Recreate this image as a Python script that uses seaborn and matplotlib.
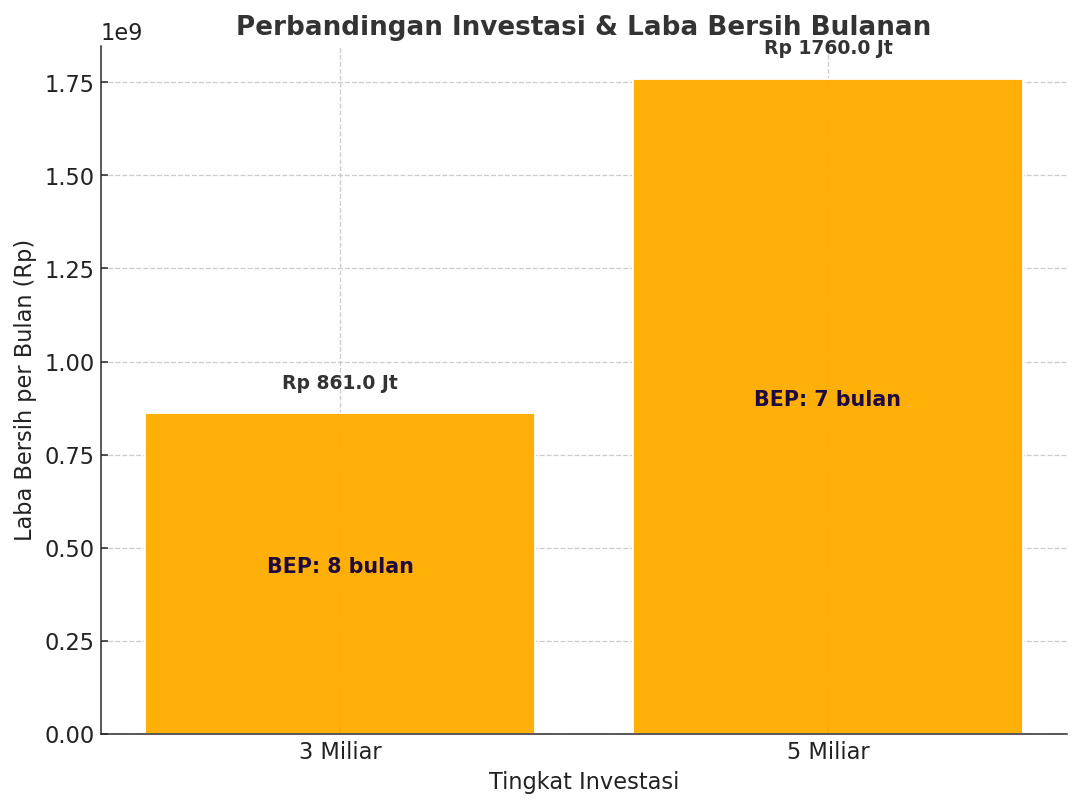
import matplotlib
matplotlib.use('Agg')
import matplotlib.pyplot as plt
import seaborn as sns
import pandas as pd

investasi = ['3 Miliar', '5 Miliar']
laba_bersih = [861.0e6, 1760.0e6]
bep_bulan = [8, 7]

df = pd.DataFrame({'investasi': investasi, 'laba': laba_bersih, 'bep': bep_bulan})

sns.set_style('ticks')
plt.rcParams['font.family'] = ['DejaVu Sans']

fig, ax = plt.subplots(figsize=(8, 5.95), dpi=135)
sns.barplot(data=df, x='investasi', y='laba', color='#FFAE00', alpha=0.97,
            width=0.8, saturation=1, ax=ax)

for i, row in df.iterrows():
    ax.text(i, row['laba'] + 0.055e9, f"Rp {row['laba'] / 1e6:.1f} Jt",
            ha='center', va='bottom', fontsize=10, fontweight='bold', color='#333333')
    ax.annotate(f"BEP: {row['bep']} bulan", (i, row['laba'] / 2),
                xytext=(0, 3.7), textcoords='offset points',
                ha='center', va='center', fontsize=11, fontweight='bold', color='#1E0A3C')

ax.set_title('Perbandingan Investasi & Laba Bersih Bulanan', fontsize=14,
             fontweight='bold', color='#333333', pad=6)
ax.set_xlabel('Tingkat Investasi', fontsize=12, color='#222222', labelpad=4)
ax.set_ylabel('Laba Bersih per Bulan (Rp)', fontsize=12, color='#222222')
ax.tick_params(labelsize=12, colors='#222222', direction='in')
ax.yaxis.get_offset_text().set_fontsize(12)
ax.grid(True, linestyle='--', color='#cccccc', linewidth=0.7)
ax.set_axisbelow(True)
ax.set_ylim(0, max(laba_bersih) * 1.05)
ax.set_xlim(-0.49, 1.49)
sns.despine(ax=ax)

plt.subplots_adjust(left=0.0935, right=0.988, top=0.9427, bottom=0.0859)
plt.savefig('out.png', dpi=135)
